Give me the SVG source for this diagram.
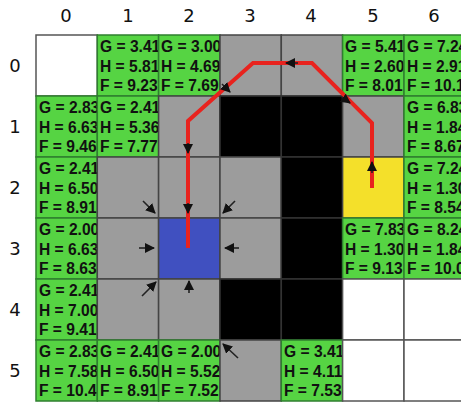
<svg xmlns="http://www.w3.org/2000/svg" width="461" height="402" viewBox="0 0 461 402">
<style>
.hd{font-family:"DejaVu Sans",Verdana,sans-serif;font-size:18px;fill:#111;text-anchor:middle}
.t{font-family:"Liberation Sans",Arial,sans-serif;font-weight:bold;font-size:15.6px;fill:#111}
.w{fill:#ffffff;stroke:#555;stroke-width:1.5}
.g{fill:#56d443;stroke:#2f7f2f;stroke-width:1.5}
.y{fill:#9c9c9c;stroke:#444;stroke-width:1.5}
.k{fill:#000;stroke:#333;stroke-width:1.5}
.b{fill:#4050c0;stroke:#444;stroke-width:1.5}
.yl{fill:#f4e02a;stroke:#444;stroke-width:1.5}
.ar{stroke:#222;stroke-width:1.6;fill:none;marker-end:url(#ah)}
.path{stroke:#e8231e;stroke-width:4;fill:none;stroke-linejoin:miter}
</style>
<defs>
<marker id="ah" markerUnits="userSpaceOnUse" markerWidth="10" markerHeight="10" refX="9" refY="5" orient="auto" viewBox="0 0 10 10">
<path d="M0,0 L10,5 L0,10 z" fill="#111"/>
</marker>
</defs>
<rect width="461" height="402" fill="#fff"/>
<g id="headers">
<text class="hd" x="66" y="22">0</text>
<text class="hd" x="128" y="22">1</text>
<text class="hd" x="189" y="22">2</text>
<text class="hd" x="250" y="22">3</text>
<text class="hd" x="311" y="22">4</text>
<text class="hd" x="373" y="22">5</text>
<text class="hd" x="434" y="22">6</text>
<text class="hd" x="15" y="72">0</text>
<text class="hd" x="15" y="133">1</text>
<text class="hd" x="15" y="194">2</text>
<text class="hd" x="15" y="255">3</text>
<text class="hd" x="15" y="316">4</text>
<text class="hd" x="15" y="377">5</text>
</g>
<!-- row 0 -->
<g id="r0c0"><rect class="w" x="36" y="35" width="61.3" height="61"/></g>
<g id="r0c1"><rect class="g" x="97.3" y="35" width="61.3" height="61"/><text class="t" x="100" y="52">G = 3.41</text><text class="t" x="100" y="72">H = 5.81</text><text class="t" x="100" y="91">F = 9.23</text></g>
<g id="r0c2"><rect class="g" x="158.6" y="35" width="61.4" height="61"/><text class="t" x="161" y="52">G = 3.00</text><text class="t" x="161" y="72">H = 4.69</text><text class="t" x="161" y="91">F = 7.69</text></g>
<g id="r0c3"><rect class="y" x="220" y="35" width="61.3" height="61"/></g>
<g id="r0c4"><rect class="y" x="281.3" y="35" width="61.3" height="61"/></g>
<g id="r0c5"><rect class="g" x="342.6" y="35" width="61.4" height="61"/><text class="t" x="345" y="52">G = 5.41</text><text class="t" x="345" y="72">H = 2.60</text><text class="t" x="345" y="91">F = 8.01</text></g>
<g id="r0c6"><rect class="g" x="404" y="35" width="61.3" height="61"/><text class="t" x="407" y="52">G = 7.24</text><text class="t" x="407" y="72">H = 2.91</text><text class="t" x="407" y="91">F = 10.1</text></g>
<!-- row 1 -->
<g id="r1c0"><rect class="g" x="36" y="96" width="61.3" height="61"/><text class="t" x="39" y="113">G = 2.83</text><text class="t" x="39" y="133">H = 6.63</text><text class="t" x="39" y="152">F = 9.46</text></g>
<g id="r1c1"><rect class="g" x="97.3" y="96" width="61.3" height="61"/><text class="t" x="100" y="113">G = 2.41</text><text class="t" x="100" y="133">H = 5.36</text><text class="t" x="100" y="152">F = 7.77</text></g>
<g id="r1c2"><rect class="y" x="158.6" y="96" width="61.4" height="61"/></g>
<g id="r1c3"><rect class="k" x="220" y="96" width="61.3" height="61"/></g>
<g id="r1c4"><rect class="k" x="281.3" y="96" width="61.3" height="61"/></g>
<g id="r1c5"><rect class="y" x="342.6" y="96" width="61.4" height="61"/></g>
<g id="r1c6"><rect class="g" x="404" y="96" width="61.3" height="61"/><text class="t" x="407" y="113">G = 6.83</text><text class="t" x="407" y="133">H = 1.84</text><text class="t" x="407" y="152">F = 8.67</text></g>
<!-- row 2 -->
<g id="r2c0"><rect class="g" x="36" y="157" width="61.3" height="61"/><text class="t" x="39" y="174">G = 2.41</text><text class="t" x="39" y="194">H = 6.50</text><text class="t" x="39" y="213">F = 8.91</text></g>
<g id="r2c1"><rect class="y" x="97.3" y="157" width="61.3" height="61"/></g>
<g id="r2c2"><rect class="y" x="158.6" y="157" width="61.4" height="61"/></g>
<g id="r2c3"><rect class="y" x="220" y="157" width="61.3" height="61"/></g>
<g id="r2c4"><rect class="k" x="281.3" y="157" width="61.3" height="61"/></g>
<g id="r2c5"><rect class="yl" x="342.6" y="157" width="61.4" height="61"/></g>
<g id="r2c6"><rect class="g" x="404" y="157" width="61.3" height="61"/><text class="t" x="407" y="174">G = 7.24</text><text class="t" x="407" y="194">H = 1.30</text><text class="t" x="407" y="213">F = 8.54</text></g>
<!-- row 3 -->
<g id="r3c0"><rect class="g" x="36" y="218" width="61.3" height="61"/><text class="t" x="39" y="235">G = 2.00</text><text class="t" x="39" y="255">H = 6.63</text><text class="t" x="39" y="274">F = 8.63</text></g>
<g id="r3c1"><rect class="y" x="97.3" y="218" width="61.3" height="61"/></g>
<g id="r3c2"><rect class="b" x="158.6" y="218" width="61.4" height="61"/></g>
<g id="r3c3"><rect class="y" x="220" y="218" width="61.3" height="61"/></g>
<g id="r3c4"><rect class="k" x="281.3" y="218" width="61.3" height="61"/></g>
<g id="r3c5"><rect class="g" x="342.6" y="218" width="61.4" height="61"/><text class="t" x="345" y="235">G = 7.83</text><text class="t" x="345" y="255">H = 1.30</text><text class="t" x="345" y="274">F = 9.13</text></g>
<g id="r3c6"><rect class="g" x="404" y="218" width="61.3" height="61"/><text class="t" x="407" y="235">G = 8.24</text><text class="t" x="407" y="255">H = 1.84</text><text class="t" x="407" y="274">F = 10.0</text></g>
<!-- row 4 -->
<g id="r4c0"><rect class="g" x="36" y="279" width="61.3" height="61"/><text class="t" x="39" y="296">G = 2.41</text><text class="t" x="39" y="316">H = 7.00</text><text class="t" x="39" y="335">F = 9.41</text></g>
<g id="r4c1"><rect class="y" x="97.3" y="279" width="61.3" height="61"/></g>
<g id="r4c2"><rect class="y" x="158.6" y="279" width="61.4" height="61"/></g>
<g id="r4c3"><rect class="k" x="220" y="279" width="61.3" height="61"/></g>
<g id="r4c4"><rect class="k" x="281.3" y="279" width="61.3" height="61"/></g>
<g id="r4c5"><rect class="w" x="342.6" y="279" width="61.4" height="61"/></g>
<g id="r4c6"><rect class="w" x="404" y="279" width="61.3" height="61"/></g>
<!-- row 5 -->
<g id="r5c0"><rect class="g" x="36" y="340" width="61.3" height="61"/><text class="t" x="39" y="357">G = 2.83</text><text class="t" x="39" y="377">H = 7.58</text><text class="t" x="39" y="396">F = 10.4</text></g>
<g id="r5c1"><rect class="g" x="97.3" y="340" width="61.3" height="61"/><text class="t" x="100" y="357">G = 2.41</text><text class="t" x="100" y="377">H = 6.50</text><text class="t" x="100" y="396">F = 8.91</text></g>
<g id="r5c2"><rect class="g" x="158.6" y="340" width="61.4" height="61"/><text class="t" x="161" y="357">G = 2.00</text><text class="t" x="161" y="377">H = 5.52</text><text class="t" x="161" y="396">F = 7.52</text></g>
<g id="r5c3"><rect class="y" x="220" y="340" width="61.3" height="61"/></g>
<g id="r5c4"><rect class="g" x="281.3" y="340" width="61.3" height="61"/><text class="t" x="284" y="357">G = 3.41</text><text class="t" x="284" y="377">H = 4.11</text><text class="t" x="284" y="396">F = 7.53</text></g>
<g id="r5c5"><rect class="w" x="342.6" y="340" width="61.4" height="61"/></g>
<g id="r5c6"><rect class="w" x="404" y="340" width="61.3" height="61"/></g>
<g id="connectors">
<path class="path" d="M188,248 L188,121 L253,63 L312,63 L372,123 L372,188"/>
<line class="ar" x1="222" y1="84" x2="230" y2="92"/>
<line class="ar" x1="298" y1="63" x2="286" y2="63"/>
<line class="ar" x1="342" y1="97" x2="350" y2="103"/>
<line class="ar" x1="188" y1="143" x2="188" y2="153"/>
<line class="ar" x1="143" y1="201" x2="155" y2="213"/>
<line class="ar" x1="188" y1="203" x2="188" y2="213"/>
<line class="ar" x1="235" y1="201" x2="223" y2="213"/>
<line class="ar" x1="139" y1="248" x2="154" y2="248"/>
<line class="ar" x1="239" y1="248" x2="225" y2="248"/>
<line class="ar" x1="142" y1="296" x2="156" y2="282"/>
<line class="ar" x1="189" y1="293" x2="189" y2="281"/>
<line class="ar" x1="238" y1="358" x2="223" y2="344"/>
<line class="ar" x1="372" y1="173" x2="372" y2="162"/>
</g>
</svg>
